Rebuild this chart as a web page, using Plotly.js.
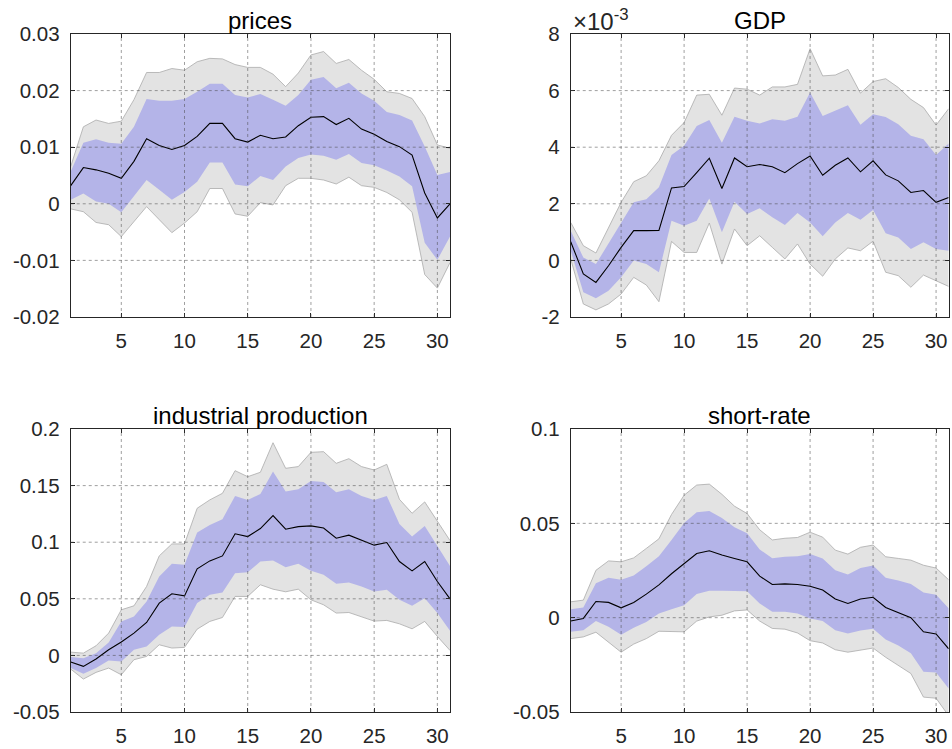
<!DOCTYPE html>
<html>
<head>
<meta charset="utf-8">
<script src="https://cdn.plot.ly/plotly-3.0.1.min.js"></script>
<style>
  html, body { margin: 0; padding: 0; background: #fff; }
  #chart { width: 952px; height: 749px; }
</style>
</head>
<body>
<div id="chart"></div>
<script>
// horizonte 1..31
const horizon = Array.from({ length: 31 }, (_, i) => i + 1);

// prices
const pricesMed = [0.0032,0.0064,0.0060,0.0054,0.0045,0.0075,0.0115,0.0103,0.0096,0.0103,0.0119,0.0142,0.0142,0.0115,0.0109,0.0121,0.0115,0.0118,0.0138,0.0153,0.0154,0.0140,0.0151,0.0132,0.0123,0.0110,0.0101,0.0086,0.0019,-0.0025,0.0000];
const pricesInnerHi = [0.0057,0.0108,0.0114,0.0108,0.0106,0.0136,0.0185,0.0182,0.0182,0.0185,0.0198,0.0212,0.0212,0.0192,0.0188,0.0194,0.0184,0.0173,0.0192,0.0219,0.0224,0.0204,0.0214,0.0195,0.0182,0.0162,0.0157,0.0147,0.0101,0.0051,0.0056];
const pricesInnerLo = [0.0007,0.0018,0.0004,0.0000,-0.0015,0.0013,0.0042,0.0025,0.0007,0.0021,0.0039,0.0073,0.0073,0.0034,0.0031,0.0049,0.0042,0.0066,0.0081,0.0087,0.0085,0.0078,0.0088,0.0072,0.0068,0.0059,0.0048,0.0031,-0.0069,-0.0099,-0.0058];
const pricesOuterHi = [0.0066,0.0136,0.0148,0.0142,0.0146,0.0184,0.0232,0.0232,0.0239,0.0236,0.0251,0.0257,0.0256,0.0246,0.0241,0.0241,0.0229,0.0207,0.0231,0.0263,0.0269,0.0248,0.0255,0.0236,0.0220,0.0198,0.0195,0.0186,0.0154,0.0104,0.0098];
const pricesOuterLo = [-0.0009,-0.0014,-0.0033,-0.0037,-0.0058,-0.0031,-0.0005,-0.0028,-0.0051,-0.0034,-0.0014,0.0027,0.0027,-0.0018,-0.0022,0.0002,-0.0002,0.0032,0.0045,0.0045,0.0042,0.0035,0.0047,0.0032,0.0029,0.0020,0.0007,-0.0015,-0.0125,-0.0149,-0.0104];

// GDP (en unidades de 1e-3)
const gdpMed = [0.66,-0.48,-0.78,-0.19,0.46,1.05,1.05,1.06,2.56,2.61,3.10,3.61,2.54,3.62,3.31,3.39,3.31,3.10,3.42,3.69,3.01,3.36,3.62,3.13,3.52,3.02,2.81,2.40,2.47,2.05,2.22];
const gdpInnerHi = [1.05,0.10,-0.13,0.58,1.34,2.05,2.16,2.58,3.72,4.05,4.75,4.96,4.16,5.08,4.93,4.84,4.99,4.93,5.08,5.93,5.10,5.28,5.48,4.79,5.16,5.07,4.81,4.40,4.28,3.72,4.13];
const gdpInnerLo = [0.34,-1.13,-1.34,-1.07,-0.60,0.00,-0.13,-0.42,1.40,1.22,1.40,2.19,0.99,2.07,1.64,1.84,1.52,1.25,1.67,1.34,0.85,1.34,1.67,1.44,1.78,0.96,0.81,0.40,0.64,0.40,0.34];
const gdpOuterHi = [1.34,0.52,0.26,1.16,2.05,2.78,2.99,3.52,4.42,4.87,5.84,5.87,5.13,6.09,6.05,5.84,6.13,6.13,6.22,7.48,6.52,6.55,6.75,5.91,6.32,6.42,6.11,5.69,5.40,4.78,5.36];
const gdpOuterLo = [0.05,-1.54,-1.75,-1.54,-1.19,-0.60,-0.87,-1.46,0.67,0.28,0.28,1.32,-0.13,1.11,0.52,0.87,0.46,0.05,0.58,-0.13,-0.56,0.05,0.44,0.34,0.68,-0.42,-0.54,-0.95,-0.52,-0.72,-0.92];

// industrial production
const ipMed = [-0.0059,-0.0097,-0.0032,0.0050,0.0118,0.0197,0.0291,0.0462,0.0544,0.0526,0.0765,0.0835,0.0879,0.1074,0.1050,0.1121,0.1235,0.1115,0.1138,0.1144,0.1126,0.1035,0.1062,0.1015,0.0974,0.0997,0.0829,0.0747,0.0829,0.0653,0.0500];
const ipInnerHi = [-0.0015,-0.0026,0.0020,0.0115,0.0300,0.0344,0.0476,0.0697,0.0809,0.0800,0.1085,0.1153,0.1203,0.1409,0.1374,0.1426,0.1624,0.1447,0.1468,0.1541,0.1532,0.1441,0.1468,0.1409,0.1374,0.1409,0.1162,0.1050,0.1144,0.0968,0.0791];
const ipInnerLo = [-0.0112,-0.0162,-0.0112,-0.0044,-0.0053,0.0050,0.0079,0.0182,0.0256,0.0250,0.0462,0.0535,0.0556,0.0726,0.0735,0.0829,0.0838,0.0779,0.0809,0.0747,0.0712,0.0632,0.0644,0.0609,0.0565,0.0579,0.0491,0.0438,0.0506,0.0374,0.0218];
const ipOuterHi = [0.0029,0.0020,0.0085,0.0197,0.0403,0.0438,0.0609,0.0879,0.0985,0.0985,0.1300,0.1374,0.1432,0.1632,0.1579,0.1618,0.1879,0.1653,0.1668,0.1794,0.1800,0.1697,0.1738,0.1668,0.1638,0.1688,0.1379,0.1256,0.1356,0.1182,0.1015];
const ipOuterLo = [-0.0121,-0.0209,-0.0150,-0.0112,-0.0171,-0.0038,-0.0009,0.0094,0.0065,0.0071,0.0232,0.0300,0.0335,0.0521,0.0521,0.0624,0.0585,0.0562,0.0585,0.0491,0.0447,0.0374,0.0379,0.0338,0.0303,0.0309,0.0279,0.0235,0.0300,0.0168,0.0044];

// short-rate
const srMed = [-0.0018,-0.0004,0.0086,0.0081,0.0052,0.0081,0.0125,0.0174,0.0233,0.0287,0.0340,0.0355,0.0332,0.0314,0.0296,0.0220,0.0176,0.0179,0.0176,0.0167,0.0147,0.0099,0.0075,0.0099,0.0108,0.0054,0.0027,0.0000,-0.0075,-0.0086,-0.0165];
const srInnerHi = [0.0045,0.0054,0.0183,0.0211,0.0201,0.0224,0.0272,0.0326,0.0412,0.0502,0.0559,0.0566,0.0529,0.0480,0.0448,0.0362,0.0315,0.0323,0.0326,0.0337,0.0314,0.0251,0.0229,0.0263,0.0276,0.0211,0.0197,0.0179,0.0134,0.0122,0.0050];
const srInnerLo = [-0.0075,-0.0066,-0.0018,-0.0048,-0.0090,-0.0054,-0.0023,0.0022,0.0045,0.0066,0.0125,0.0143,0.0143,0.0143,0.0140,0.0075,0.0032,0.0032,0.0022,-0.0004,-0.0018,-0.0066,-0.0084,-0.0068,-0.0059,-0.0116,-0.0147,-0.0188,-0.0287,-0.0290,-0.0376];
const srOuterHi = [0.0084,0.0093,0.0251,0.0301,0.0296,0.0317,0.0367,0.0418,0.0547,0.0649,0.0703,0.0708,0.0654,0.0591,0.0552,0.0466,0.0412,0.0421,0.0425,0.0453,0.0427,0.0358,0.0337,0.0373,0.0385,0.0323,0.0314,0.0305,0.0278,0.0263,0.0201];
const srOuterLo = [-0.0111,-0.0102,-0.0077,-0.0129,-0.0183,-0.0140,-0.0111,-0.0072,-0.0075,-0.0075,-0.0018,0.0004,0.0013,0.0036,0.0041,-0.0018,-0.0057,-0.0061,-0.0081,-0.0122,-0.0134,-0.0170,-0.0183,-0.0170,-0.0161,-0.0210,-0.0251,-0.0296,-0.0421,-0.0427,-0.0520];

// ticks
const xTicks = [5, 10, 15, 20, 25, 30];
const pricesTicks = [-0.02, -0.01, 0, 0.01, 0.02, 0.03];
const pricesTickText = ['-0.02', '-0.01', '0', '0.01', '0.02', '0.03'];
const gdpTicks = [-2, 0, 2, 4, 6, 8];
const gdpTickText = ['-2', '0', '2', '4', '6', '8'];
const ipTicks = [-0.05, 0, 0.05, 0.1, 0.15, 0.2];
const ipTickText = ['-0.05', '0', '0.05', '0.1', '0.15', '0.2'];
const srTicks = [-0.05, 0, 0.05, 0.1];
const srTickText = ['-0.05', '0', '0.05', '0.1'];

const GRAY = '#e3e3e3';
const GRAY_EDGE = '#ababab';
const BLUE = '#b4b4e8';
const FONT = 'Liberation Sans, Arial, sans-serif';

function panelTraces(xa, ya, med, iLo, iHi, oLo, oHi) {
  const base = { x: horizon, xaxis: xa, yaxis: ya, type: 'scatter', mode: 'lines', hoverinfo: 'skip', showlegend: false };
  return [
    { ...base, y: oLo, line: { color: GRAY_EDGE, width: 0.8 } },
    { ...base, y: oHi, line: { color: GRAY_EDGE, width: 0.8 }, fill: 'tonexty', fillcolor: GRAY },
    { ...base, y: iLo, line: { width: 0, color: BLUE } },
    { ...base, y: iHi, line: { width: 0, color: BLUE }, fill: 'tonexty', fillcolor: BLUE },
    { ...base, y: med, line: { color: '#000', width: 1.1 } }
  ];
}

const data = [
  ...panelTraces('x', 'y', pricesMed, pricesInnerLo, pricesInnerHi, pricesOuterLo, pricesOuterHi),
  ...panelTraces('x2', 'y2', gdpMed, gdpInnerLo, gdpInnerHi, gdpOuterLo, gdpOuterHi),
  ...panelTraces('x3', 'y3', ipMed, ipInnerLo, ipInnerHi, ipOuterLo, ipOuterHi),
  ...panelTraces('x4', 'y4', srMed, srInnerLo, srInnerHi, srOuterLo, srOuterHi)
];

const colL = [0.0743, 0.4727];
const colR = [0.5995, 0.9965];
const rowT = [0.5768, 0.9546];
const rowB = [0.0494, 0.4272];

function xAxis(domain, anchor) {
  return {
    domain, anchor, range: [1, 31], tickvals: xTicks, ticktext: xTicks.map(String),
    showgrid: false, zeroline: false, showline: true, mirror: 'ticks', linecolor: '#262626', linewidth: 1,
    ticks: 'inside', ticklen: 4, tickcolor: '#262626', ticklabelstandoff: 5,
    tickfont: { family: FONT, size: 20.5, color: '#262626' }
  };
}
function yAxis(domain, anchor, range, vals, text) {
  return {
    domain, anchor, range, tickvals: vals, ticktext: text,
    showgrid: false, zeroline: false, showline: true, mirror: 'ticks', linecolor: '#262626', linewidth: 1,
    ticks: 'inside', ticklen: 4, tickcolor: '#262626', ticklabelstandoff: 6,
    tickfont: { family: FONT, size: 20.5, color: '#262626' }
  };
}

// rejilla por encima de las bandas, como en MATLAB
const shapes = [];
function gridFor(xr, yr, yVals) {
  const st = { type: 'line', layer: 'above', line: { color: 'rgba(70,70,70,0.75)', width: 0.7, dash: 'dot' } };
  xTicks.forEach(v => shapes.push({ ...st, xref: xr, yref: yr + ' domain', x0: v, x1: v, y0: 0, y1: 1 }));
  yVals.forEach(v => shapes.push({ ...st, xref: xr + ' domain', yref: yr, x0: 0, x1: 1, y0: v, y1: v }));
}
gridFor('x', 'y', pricesTicks.slice(1, -1));
gridFor('x2', 'y2', gdpTicks.slice(1, -1));
gridFor('x3', 'y3', ipTicks.slice(1, -1));
gridFor('x4', 'y4', srTicks.slice(1, -1));

function title(text, dom, yTop) {
  return { text, xref: 'paper', yref: 'paper', x: (dom[0] + dom[1]) / 2, y: yTop, yanchor: 'bottom', xanchor: 'center',
    showarrow: false, yshift: -2, font: { family: FONT, size: 24, color: '#000' } };
}

const layout = {
  width: 952, height: 749,
  margin: { l: 0, r: 0, t: 0, b: 0 },
  paper_bgcolor: '#fff', plot_bgcolor: '#fff',
  xaxis: xAxis(colL, 'y'), yaxis: yAxis(rowT, 'x', [-0.02, 0.03], pricesTicks, pricesTickText),
  xaxis2: xAxis(colR, 'y2'), yaxis2: yAxis(rowT, 'x2', [-2, 8], gdpTicks, gdpTickText),
  xaxis3: xAxis(colL, 'y3'), yaxis3: yAxis(rowB, 'x3', [-0.05, 0.2], ipTicks, ipTickText),
  xaxis4: xAxis(colR, 'y4'), yaxis4: yAxis(rowB, 'x4', [-0.05, 0.1], srTicks, srTickText),
  shapes,
  annotations: [
    title('prices', colL, rowT[1]),
    title('GDP', colR, rowT[1]),
    title('industrial production', colL, rowB[1]),
    title('short-rate', colR, rowB[1]),
    { text: '×10<sup>-3</sup>', xref: 'paper', yref: 'paper', x: colR[0], y: rowT[1], xanchor: 'left', yanchor: 'bottom',
      showarrow: false, xshift: 0, yshift: -3, font: { family: FONT, size: 24, color: '#262626' } }
  ]
};

Plotly.newPlot('chart', data, layout, { staticPlot: true });
</script>
</body>
</html>
